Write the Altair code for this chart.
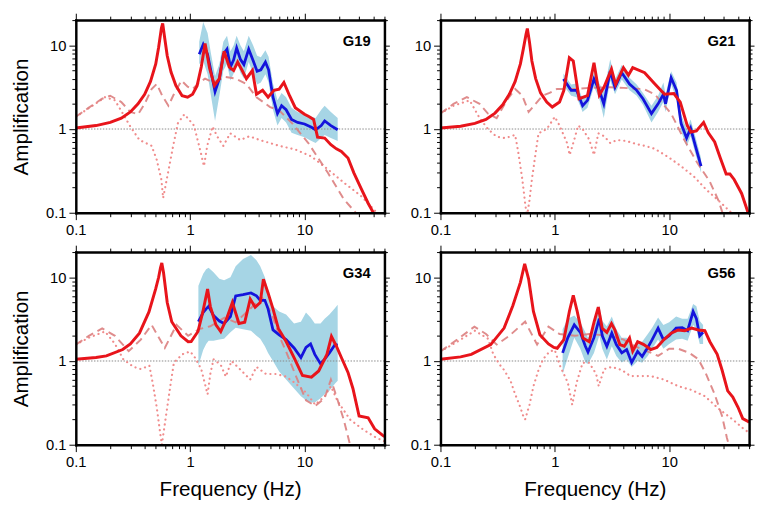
import altair as alt
import pandas as pd

# ---------------- data ----------------
STATIONS = ["G19", "G21", "G34", "G56"]
X_MAJOR = [0.1, 1, 10]
X_MINOR = [0.2, 0.3, 0.4, 0.5, 0.6, 0.7, 0.8, 0.9, 2, 3, 4, 5, 6, 7, 8, 9, 20, 30, 40, 50]
Y_MAJOR = [0.1, 1, 10]
Y_MINOR = [0.2, 0.3, 0.4, 0.5, 0.6, 0.7, 0.8, 0.9, 2, 3, 4, 5, 6, 7, 8, 9, 20]

# theoretical (thick red): (frequency Hz, amplification)
G19_RED = [(0.1,1.03),(0.15,1.1),(0.2,1.2),(0.25,1.35),(0.3,1.6),(0.35,2.0),(0.4,2.6),(0.45,3.7),(0.5,6.0),(0.53,9.5),
           (0.56,16),(0.575,18.3),(0.6,12),(0.63,7.5),(0.68,4.8),(0.75,3.3),(0.85,2.5),(0.95,2.4),(1.05,2.6),(1.15,3.3),
           (1.25,5.5),(1.35,10.5),(1.48,5.3),(1.63,3.3),(1.8,4.0),(1.98,8.5),(2.2,5.5),(2.4,5.0),(2.6,6.3),(2.85,5.0),
           (3.1,4.0),(3.5,5.0),(3.8,2.6),(4.3,2.9),(4.8,2.4),(5.4,2.9),(6.0,3.0),(6.6,3.6),(7.4,2.5),(8.3,1.8),
           (10,1.5),(11,1.4),(12,1.3),(13,0.8),(15,0.78),(17,0.65),(19,0.58),(21,0.54),(24,0.45),(27,0.3),
           (31,0.2),(36,0.13),(40,0.1),(45,0.075)]
G21_RED = [(0.1,1.03),(0.15,1.08),(0.2,1.17),(0.25,1.3),(0.3,1.55),(0.35,1.95),(0.4,2.6),(0.45,3.7),(0.5,6.0),(0.53,9),
           (0.56,13.5),(0.575,15.9),(0.6,11),(0.63,6.5),(0.68,4.0),(0.75,2.7),(0.85,2.1),(0.95,1.83),(1.1,2.1),(1.2,2.9),
           (1.34,7.1),(1.45,6.5),(1.63,2.3),(1.93,2.5),(2.2,6.2),(2.45,2.55),(2.7,3.2),(3.13,5.2),(3.4,3.4),(3.98,5.4),
           (4.4,4.4),(4.8,5.4),(6.1,4.7),(7.5,3.45),(9.1,2.6),(11,2.65),(12.5,2.1),(14.4,1.1),(15.5,0.92),(17.3,0.95),
           (20,1.2),(22,0.9),(25,0.7),(28,0.45),(31.5,0.29),(34,0.29),(37,0.25),(43,0.17),(49,0.1),(50,0.095)]
G34_RED = [(0.1,1.05),(0.15,1.1),(0.185,1.15),(0.257,1.37),(0.3,1.6),(0.36,2.15),(0.436,3.86),(0.5,7.3),(0.53,10),(0.55,13),
           (0.565,14.8),(0.585,11.3),(0.63,5.0),(0.69,2.94),(0.83,2.0),(0.96,1.7),(1.02,1.71),(1.17,2.25),(1.29,3.85),(1.42,7.25),
           (1.5,4.5),(1.68,2.7),(1.85,2.25),(2.1,3.3),(2.34,5.0),(2.67,2.8),(3.0,2.9),(3.35,5.5),(3.7,4.4),(4.1,5.0),
           (4.37,9.5),(4.8,6.5),(5.3,4.2),(5.9,2.45),(6.9,1.71),(8.1,1.1),(9.6,0.67),(11.5,0.64),(13.3,0.76),(15.7,1.2),
           (17.2,1.96),(19,1.5),(21,1.1),(24,0.73),(26.5,0.47),(30,0.22),(36,0.21),(41,0.155),(48,0.13),(50,0.125)]
G56_RED = [(0.1,1.05),(0.15,1.12),(0.186,1.2),(0.275,1.57),(0.36,2.47),(0.43,4.6),(0.5,8.7),(0.545,14.5),(0.59,9.5),(0.65,3.9),
           (0.74,2.06),(0.88,1.6),(0.98,1.45),(1.05,1.42),(1.2,1.8),(1.34,3.9),(1.45,6.1),(1.57,3.9),(1.76,1.88),(2.0,1.7),
           (2.2,2.9),(2.4,4.4),(2.6,2.45),(2.85,2.2),(3.13,2.8),(3.35,2.35),(3.7,1.57),(4.05,1.5),(4.5,1.88),(4.8,1.31),
           (5.3,1.7),(6.0,1.57),(6.9,1.37),(7.8,1.45),(9.0,1.8),(10.4,2.15),(12,2.35),(13.7,2.3),(15.7,2.47),(18,2.35),
           (20.5,2.3),(22.7,1.7),(26.3,1.2),(29,0.78),(32.5,0.44),(36,0.37),(40,0.28),(44,0.205),(49,0.19),(50,0.185)]

# observed (blue) with its spread (light blue): (frequency, mean, lower, upper)
G19_OBS = [(1.2,7.8,6.0,11),(1.3,10.2,6.5,19),(1.42,7.8,4.5,14),(1.52,4.9,2.5,8),(1.65,2.8,1.25,4.3),(1.8,4.0,2.5,6),
           (1.95,7.8,5,11),(2.1,9.0,6,13),(2.25,5.5,3.8,8.5),(2.4,6.7,4.6,10),(2.55,9.3,6.5,13),(2.75,6.8,4.7,10),
           (2.95,5.9,4,8.5),(3.25,9.0,6.3,13),(3.55,6.6,4.6,10),(3.85,4.9,3.4,7.5),(4.15,5.1,3.6,7.2),(4.55,6.3,4.5,8.7),
           (4.85,5.1,3.6,7.3),(5.3,2.4,1.7,3.5),(5.8,1.53,1.1,2.2),(6.3,1.9,1.35,2.7),(6.9,1.7,1.2,2.4),(7.7,1.3,0.9,1.8),
           (8.7,1.2,0.85,1.6),(10,1.15,0.8,1.5),(11.5,1.05,0.72,1.4),(12.5,0.98,0.68,1.35),(14,1.1,0.78,1.7),
           (15,1.25,0.85,1.9),(17,1.1,0.78,1.6),(19.5,0.98,0.72,1.35)]
G21_OBS = [(1.19,3.95,3.3,4.6),(1.39,2.9,2.5,3.4),(1.55,2.9,2.4,3.5),(1.75,1.9,1.6,2.3),(1.93,2.2,1.8,2.7),(2.2,3.95,3.2,4.8),
           (2.45,2.9,2.3,3.5),(2.68,2.0,1.35,2.8),(3.05,4.9,3.8,6.8),(3.36,3.15,2.6,3.9),(3.85,4.7,3.9,5.8),(4.5,3.45,2.9,4.1),
           (5.2,2.9,2.5,3.4),(5.9,2.3,1.95,2.7),(7.0,1.53,1.2,1.9),(8.0,2.0,1.6,2.5),(8.9,2.6,2.1,3.6),(9.3,2.0,1.6,2.6),
           (10.4,4.1,3.4,4.9),(11.6,2.9,2.3,3.6),(12.7,1.17,0.95,1.5),(14.2,0.78,0.62,1.0),(15.4,1.02,0.82,1.3),
           (17,0.62,0.5,0.8),(19,0.36,0.3,0.45)]
G34_OBS = [(1.18,2.95,0.88,7.9),(1.3,3.8,1.35,11),(1.38,4.2,1.6,12.5),(1.45,4.5,1.75,13),(1.6,3.5,1.75,11.5),(1.8,3.0,1.8,9.6),
           (1.98,2.8,1.85,9.2),(2.25,3.4,2.2,10),(2.5,6.0,2.5,13.5),(2.9,6.2,2.4,16.5),(3.4,6.5,2.3,18.5),(3.8,6.0,2.0,16),
           (4.1,5.3,1.85,13.5),(4.5,5.3,1.5,10),(4.8,4.2,1.25,7),(5.3,2.35,1.0,4.5),(6.0,2.05,0.75,3.9),(6.9,1.8,0.6,3.6),
           (8.1,1.43,0.47,2.8),(9.3,1.1,0.38,2.95),(10.3,1.45,0.34,3.8),(11.3,1.6,0.32,3.3),(12.3,1.2,0.32,2.8),
           (13.8,0.93,0.36,2.8),(15,1.05,0.4,3.2),(16.5,1.25,0.44,3.6),(18.5,1.57,0.54,4.3),(19.5,1.55,0.58,4.7)]
G56_OBS = [(1.17,1.25,0.7,2.4),(1.3,1.9,1.1,3.2),(1.48,2.7,1.9,3.5),(1.67,2.2,1.4,2.9),(1.85,1.5,0.96,2.2),(1.95,1.28,0.92,1.9),
           (2.2,1.9,1.25,2.5),(2.45,3.2,2.0,4.6),(2.6,2.0,1.4,3.0),(2.85,1.5,1.04,2.6),(3.15,2.15,1.5,3.4),(3.45,1.57,1.15,2.4),
           (3.85,1.25,0.96,1.9),(4.25,1.37,1.04,1.9),(4.7,0.96,0.85,1.45),(5.3,1.3,1.0,1.7),(5.8,1.13,0.95,1.7),
           (6.5,1.45,1.15,2.1),(7.1,1.8,1.4,2.5),(8.0,2.47,1.8,3.3),(8.9,1.8,1.4,2.7),(10,2.0,1.6,2.9),(11.5,2.47,1.8,3.4),
           (13,2.5,1.85,3.2),(14.5,2.3,1.75,3.2),(16.2,3.9,2.7,4.8),(17.3,3.2,2.4,4.5),(18.5,2.0,1.6,3.0),(19.8,2.2,1.6,2.7)]

# dashed (light red)
G19_DASH = [(0.1,1.4),(0.13,1.8),(0.17,2.3),(0.2,2.5),(0.25,2.1),(0.3,1.6),(0.35,1.5),(0.4,2.0),(0.46,3.0),(0.51,3.45),
            (0.57,2.5),(0.645,1.9),(0.72,2.6),(0.84,3.8),(0.95,3.2),(1.05,3.0),(1.2,3.6),(1.35,4.0),(1.6,3.6),(2.0,4.2),
            (2.5,4.0),(3.1,3.45),(3.8,2.4),(5.0,1.83),(6.0,1.67),(7.8,1.17),(10.8,0.68),(16,0.3),(22,0.146),(28,0.1),(32,0.08)]
G21_DASH = [(0.1,1.53),(0.13,2.0),(0.17,2.4),(0.22,2.0),(0.26,1.53),(0.31,1.35),(0.38,2.2),(0.45,3.0),(0.52,2.5),(0.59,1.6),
            (0.78,2.5),(0.9,2.7),(1.04,3.0),(1.5,3.0),(2,3.1),(3,3.15),(4,3.1),(6,3.0),(7.5,2.6),(10.4,1.53),(13.5,0.75),
            (17.5,0.4),(22.5,0.24),(27,0.14),(30,0.09)]
G34_DASH = [(0.1,1.57),(0.13,2.0),(0.17,2.45),(0.22,2.0),(0.29,1.31),(0.37,1.8),(0.46,2.7),(0.6,1.43),(0.76,2.7),(0.96,2.0),
            (1.2,2.4),(1.5,2.6),(2.0,3.3),(2.5,2.9),(3.35,4.2),(4.2,5.8),(4.6,5.0),(5.3,3.3),(6.0,2.0),(6.9,1.3),(8.2,0.72),
            (10.3,0.34),(12.4,0.29),(15,0.36),(17,0.6),(19.5,0.34),(22,0.2),(25,0.1),(27,0.07)]
G56_DASH = [(0.1,1.3),(0.14,1.8),(0.198,2.57),(0.25,2.1),(0.31,1.57),(0.4,2.0),(0.55,2.95),(0.7,1.57),(0.88,2.57),(1.1,2.1),
            (1.5,2.0),(2,2.1),(3,2.0),(4,1.8),(5,1.5),(6,1.35),(7,1.25),(8,1.15),(10,1.4),(12,1.4),(15,1.25),(18,1.05),
            (21,0.7),(25,0.4),(29,0.22),(32,0.12),(34,0.09)]

# dotted (pink)
G19_DOT = [(0.1,1.4),(0.14,1.9),(0.18,2.4),(0.22,2.2),(0.26,1.5),(0.3,1.07),(0.36,0.74),(0.46,0.63),(0.51,0.43),(0.56,0.25),
           (0.58,0.15),(0.64,0.3),(0.71,0.63),(0.78,1.17),(0.89,1.5),(1.08,1.1),(1.24,0.52),(1.32,0.36),(1.41,0.63),(1.57,1.07),
           (1.72,0.82),(1.95,0.63),(2.24,0.89),(2.74,0.74),(3.3,0.82),(4.05,0.74),(6.0,0.63),(8.3,0.57),(11.5,0.47),(16,0.33),
           (22,0.23),(31,0.16),(43,0.1),(50,0.085)]
G21_DOT = [(0.1,1.53),(0.13,1.9),(0.18,2.2),(0.22,1.35),(0.26,1.0),(0.31,0.81),(0.37,0.78),(0.45,0.85),(0.48,0.52),(0.52,0.25),
           (0.55,0.13),(0.57,0.09),(0.6,0.14),(0.63,0.25),(0.68,0.52),(0.72,0.89),(0.85,1.0),(1.0,1.4),(1.1,1.1),(1.28,0.68),
           (1.35,0.49),(1.5,0.8),(1.6,1.1),(1.75,1.0),(2.0,0.75),(2.2,0.49),(2.4,0.89),(2.7,0.82),(3.05,0.68),(3.5,0.74),
           (4.2,0.72),(5.2,0.66),(6.1,0.63),(7.5,0.58),(9.9,0.46),(12.7,0.36),(16.5,0.27),(21,0.19),(27,0.14),(35,0.1),
           (45,0.07),(50,0.06)]
G34_DOT = [(0.1,1.57),(0.13,1.9),(0.18,2.25),(0.22,1.6),(0.26,1.05),(0.32,0.85),(0.37,0.8),(0.44,0.88),(0.47,0.55),(0.51,0.28),
           (0.55,0.13),(0.565,0.1),(0.62,0.24),(0.67,0.5),(0.72,0.95),(0.85,1.2),(1.0,1.3),(1.1,1.1),(1.25,0.8),(1.42,0.4),
           (1.5,0.7),(1.6,1.05),(1.85,0.9),(2.05,0.65),(2.3,1.0),(2.6,0.85),(3.0,0.7),(3.35,0.6),(3.8,0.85),(4.6,0.7),
           (5.6,0.7),(6.9,0.65),(8.2,0.55),(10.3,0.42),(12.4,0.3),(15,0.38),(17,0.5),(19.5,0.33),(25,0.2),(33,0.15),
           (43,0.12),(50,0.11)]
G56_DOT = [(0.1,1.3),(0.14,1.7),(0.2,2.3),(0.26,1.85),(0.29,1.2),(0.33,0.9),(0.36,0.78),(0.41,0.58),(0.45,0.4),(0.49,0.3),
           (0.53,0.22),(0.55,0.2),(0.6,0.3),(0.65,0.5),(0.72,0.78),(0.79,1.05),(0.9,1.3),(1.0,1.35),(1.1,0.9),(1.3,0.55),
           (1.42,0.3),(1.55,0.55),(1.75,0.95),(2.0,0.95),(2.3,0.7),(2.42,0.5),(2.7,0.8),(3.15,0.85),(3.85,0.78),(4.6,0.66),
           (5.6,0.66),(6.9,0.66),(9.0,0.6),(12,0.5),(15.7,0.45),(20.5,0.38),(27,0.27),(36,0.2),(46,0.15),(50,0.14)]

PANELS = {
    "G19": (G19_RED, G19_OBS, G19_DASH, G19_DOT),
    "G21": (G21_RED, G21_OBS, G21_DASH, G21_DOT),
    "G34": (G34_RED, G34_OBS, G34_DASH, G34_DOT),
    "G56": (G56_RED, G56_OBS, G56_DASH, G56_DOT),
}

# ---------------- styling ----------------
W, H = 314, 196
FONT = "Liberation Sans"
RED = "#e8141b"
BLUE = "#1414dc"
BAND = "#a6d5e5"
DASH_C = "#dc7f7f"
DOT_C = "#f08c8c"

XS = alt.Scale(type="log", domain=[0.1, 50], nice=False)
YS = alt.Scale(type="log", domain=[0.1, 20], nice=False)

LBL = "datum.value == 0.1 ? '0.1' : datum.value == 1 ? '1' : datum.value == 10 ? '10' : ''"
TICKS = dict(grid=False, tickColor="black", tickWidth=1, zindex=1)
FRAME = dict(domain=True, domainColor="black", domainWidth=2.5, domainCap="square")
LABELS = dict(labelExpr=LBL, labelFontSize=15, labelFont=FONT, labelColor="black",
              labelFlush=False, labelOverlap=False)
TITLES = dict(titleFontSize=21, titleFont=FONT, titleFontWeight="normal", titleColor="black")


def x_bottom(title):
    kw = dict(orient="bottom", values=X_MAJOR, tickSize=7, labelPadding=3,
              minExtent=27, maxExtent=27, **LABELS, **TICKS, **FRAME)
    if title:
        kw.update(title=title, titlePadding=8, **TITLES)
    else:
        kw.update(title=None)
    return alt.Axis(**kw)


def y_left(title):
    kw = dict(orient="left", values=Y_MAJOR, tickSize=7, labelPadding=3,
              minExtent=31, maxExtent=31, **LABELS, **TICKS, **FRAME)
    if title:
        kw.update(title=title, titlePadding=14, **TITLES)
    else:
        kw.update(title=None)
    return alt.Axis(**kw)


X_BOTTOM_MINOR = alt.Axis(orient="bottom", values=X_MINOR, labels=False, tickSize=4, domain=False, title=None, **TICKS)
Y_LEFT_MINOR = alt.Axis(orient="left", values=Y_MINOR, labels=False, tickSize=4, domain=False, title=None, **TICKS)
X_TOP_MAJOR = alt.Axis(orient="top", values=X_MAJOR, labels=False, tickSize=7, title=None, **TICKS, **FRAME)
X_TOP_MINOR = alt.Axis(orient="top", values=X_MINOR, labels=False, tickSize=4, domain=False, title=None, **TICKS)
Y_RIGHT_MAJOR = alt.Axis(orient="right", values=Y_MAJOR, labels=False, tickSize=5, title=None, **TICKS, **FRAME)
Y_RIGHT_MINOR = alt.Axis(orient="right", values=Y_MINOR, labels=False, tickSize=3, domain=False, title=None, **TICKS)


def panel(name, left_title, bottom_title):
    red, obs, dash, dot = PANELS[name]
    red_df = pd.DataFrame(red, columns=["f", "A"])
    obs_df = pd.DataFrame(obs, columns=["f", "A", "lo", "hi"])
    dash_df = pd.DataFrame(dash, columns=["f", "A"])
    dot_df = pd.DataFrame(dot, columns=["f", "A"])

    band = alt.Chart(obs_df).mark_area(color=BAND, clip=True).encode(
        x=alt.X("f:Q", scale=XS, axis=x_bottom(bottom_title)),
        y=alt.Y("lo:Q", scale=YS, axis=y_left(left_title)),
        y2="hi:Q",
    )
    one = alt.Chart(pd.DataFrame({"A": [1]})).mark_rule(
        color="#8a8a8a", strokeWidth=1, strokeDash=[1.5, 1.5]
    ).encode(y=alt.Y("A:Q", scale=YS, axis=None))
    dotted = alt.Chart(dot_df).mark_line(
        color=DOT_C, strokeWidth=2.2, strokeDash=[0.1, 5], strokeCap="round", clip=True
    ).encode(x=alt.X("f:Q", scale=XS, axis=X_BOTTOM_MINOR), y=alt.Y("A:Q", scale=YS, axis=Y_LEFT_MINOR))
    dashed = alt.Chart(dash_df).mark_line(
        color=DASH_C, strokeWidth=2, strokeDash=[8, 5], opacity=0.9, clip=True
    ).encode(x=alt.X("f:Q", scale=XS, axis=X_TOP_MAJOR), y=alt.Y("A:Q", scale=YS, axis=Y_RIGHT_MAJOR))
    blue = alt.Chart(obs_df).mark_line(color=BLUE, strokeWidth=2.8, clip=True).encode(
        x=alt.X("f:Q", scale=XS, axis=X_TOP_MINOR), y=alt.Y("A:Q", scale=YS, axis=Y_RIGHT_MINOR))
    redl = alt.Chart(red_df).mark_line(color=RED, strokeWidth=3, clip=True).encode(
        x=alt.X("f:Q", scale=XS, axis=None), y=alt.Y("A:Q", scale=YS, axis=None))
    label = alt.Chart(pd.DataFrame({"name": [name]})).mark_text(
        align="right", baseline="alphabetic", font=FONT, fontSize=15, fontWeight="bold", color="black"
    ).encode(text="name:N", x=alt.value(W - 14), y=alt.value(26))

    return alt.layer(band, one, dotted, dashed, blue, redl, label).resolve_axis(
        x="independent", y="independent"
    ).properties(width=W, height=H)


row1 = alt.hconcat(panel("G19", "Amplification", None), panel("G21", None, None), spacing=20)
row2 = alt.hconcat(panel("G34", "Amplification", "Frequency (Hz)"),
                   panel("G56", None, "Frequency (Hz)"), spacing=20)
chart = alt.vconcat(row1, row2, spacing=5).properties(
    padding={"left": 3, "top": 0, "right": 0, "bottom": 0}
).configure(font=FONT).configure_view(stroke=None)

chart.save("out.html", embed_options={"renderer": "svg", "actions": False})
